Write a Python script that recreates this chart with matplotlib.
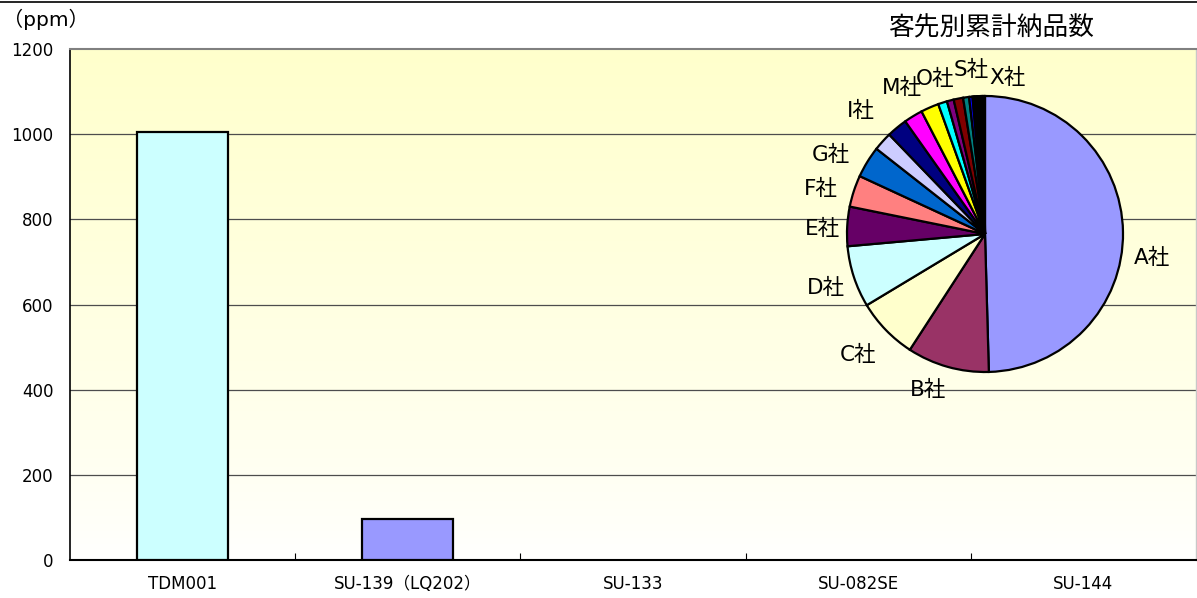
import numpy as np
import matplotlib
matplotlib.use("Agg")
import matplotlib.pyplot as plt
from matplotlib.lines import Line2D

plt.rcParams['font.family'] = ['DejaVu Sans', 'Noto Sans CJK JP']

# ---- data ----
categories = ["TDM001", "SU-139（LQ202）", "SU-133", "SU-082SE", "SU-144"]
ppm_values = [1004, 96, 0, 0, 0]
bar_colors = ["#CCFFFF", "#9999FF", "#CCFFFF", "#CCFFFF", "#CCFFFF"]
y_ticks = [0, 200, 400, 600, 800, 1000, 1200]

customers = ["A社", "B社", "C社", "D社", "E社", "F社", "G社", "H社", "I社", "J社", "K社", "L社",
             "M社", "N社", "O社", "P社", "Q社", "R社", "S社", "T社", "U社", "V社", "W社", "X社"]
share = [49.5, 9.6, 7.2, 7.2, 4.6, 3.7, 3.7, 2.2, 2.4, 2.2, 2.1, 1.05,
         0.8, 1.1, 0.7, 0.4, 0.18, 0.18, 0.18, 0.18, 0.18, 0.18, 0.18, 0.18]
pie_colors = ["#9999FF", "#993366", "#FFFFCC", "#CCFFFF", "#660066", "#FF8080", "#0066CC", "#CCCCFF",
              "#000080", "#FF00FF", "#FFFF00", "#00FFFF", "#800080", "#800000", "#008080", "#0000FF",
              "#00CCFF", "#CCFFFF", "#CCFFCC", "#FFFF99", "#99CCFF", "#FF99CC", "#CC99FF", "#FFCC99"]
pie_title = "客先別累計納品数"
y_unit = "（ppm）"

# label layout (pie units) for the labels that are shown
label_pos = {"A社": (1.21, -0.17), "B社": (-0.41, -1.13), "C社": (-0.92, -0.88),
             "D社": (-1.15, -0.39), "E社": (-1.18, 0.04), "F社": (-1.19, 0.33),
             "G社": (-1.12, 0.57), "I社": (-0.90, 0.89), "M社": (-0.60, 1.06),
             "O社": (-0.36, 1.12), "S社": (-0.10, 1.19), "X社": (0.16, 1.13)}

W, H = 1197, 598
fig = plt.figure(figsize=(W / 100, H / 100), dpi=100)
fig.patch.set_facecolor("white")

ax = fig.add_axes([70 / W, 1 - 560 / H, (1196 - 70) / W, (560 - 49) / H])

# gradient background
grad = np.linspace(0, 1, 256).reshape(-1, 1)
top = np.array([1.0, 1.0, 0.80])
bot = np.array([1.0, 1.0, 1.0])
img = bot + (top - bot) * grad[::-1] ** 0.8
img = np.repeat(img[:, None, :], 2, axis=1).reshape(256, 2, 3)
ax.imshow(img, extent=[0, 1, 0, 1], transform=ax.transAxes, aspect="auto", zorder=0)

x = np.arange(len(categories))
edge_cols = ["black" if v > 0 else "none" for v in ppm_values]
ax.bar(x, ppm_values, width=0.405, color=bar_colors, edgecolor=edge_cols, linewidth=1.6, zorder=3)
ax.set_xlim(-0.5, len(categories) - 0.5)
ax.set_ylim(0, 1200)
ax.set_yticks(y_ticks)
ax.set_yticklabels([str(v) for v in y_ticks], fontsize=12)
ax.set_xticks(x)
ax.set_xticklabels(categories, fontsize=12)
ax.tick_params(axis="x", length=0, pad=11)
ax.tick_params(axis="y", length=0, pad=12)
ax.set_xticks(np.arange(0.5, len(categories) - 0.5, 1), minor=True)
ax.tick_params(axis="x", which="minor", direction="in", length=5, color="black", width=0.8)
for v in y_ticks[1:-1]:
    ax.axhline(v, color="#4d4d4d", lw=0.9, zorder=1)
ax.spines["left"].set_color("black")
ax.spines["left"].set_linewidth(1.2)
ax.spines["bottom"].set_color("black")
ax.spines["bottom"].set_linewidth(1.5)
ax.spines["top"].set_color("#808080")
ax.spines["top"].set_linewidth(1.5)
ax.spines["right"].set_color("#c8c8c8")
ax.spines["right"].set_linewidth(1.0)

# pie inset
cx, cy, r = 985, 234, 138
pax = fig.add_axes([(cx - r) / W, 1 - (cy + r) / H, 2 * r / W, 2 * r / H])
wedges, _ = pax.pie(share, colors=pie_colors, startangle=90, counterclock=False, radius=1,
                    wedgeprops=dict(edgecolor="black", linewidth=1.6))
for w in wedges:
    w.set_clip_on(False)
pax.set_xlim(-1, 1)
pax.set_ylim(-1, 1)
pax.set_aspect("equal")
pax.axis("off")
for name in customers:
    if name in label_pos:
        lx, ly = label_pos[name]
        pax.text(lx, ly, name, ha="center", va="center", fontsize=15.5)

fig.text(991 / W, 1 - 28 / H, pie_title, ha="center", va="center", fontsize=18.5)
fig.text(3 / W, 1 - 19 / H, y_unit, ha="left", va="center", fontsize=14.5)
fig.add_artist(Line2D([0, 1], [1 - 2 / H, 1 - 2 / H], transform=fig.transFigure, color="black", lw=1.2))

fig.savefig("out.png", dpi=100)
